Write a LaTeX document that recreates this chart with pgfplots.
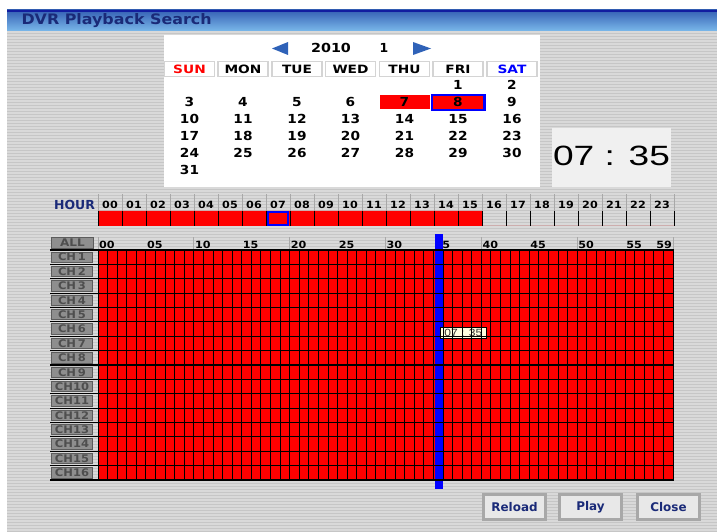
\documentclass[border=0pt]{standalone}
\usepackage{pgfplots}
\pgfplotsset{compat=1.18}
\usepackage{fontspec}
\setmainfont{DejaVu Sans}
\newfontfamily\lib{Liberation Sans}
\definecolor{bggray}{HTML}{D9D9D9}
\definecolor{stripe}{HTML}{C6C6C6}
\definecolor{navy}{HTML}{1A2A78}
\definecolor{titletop}{HTML}{3560B4}
\definecolor{titlebot}{HTML}{7AB8EA}
\definecolor{btnface}{HTML}{8E8E8E}
\definecolor{btnedge}{HTML}{5C5C5C}
\definecolor{btntext}{HTML}{4E4E4E}
\definecolor{tipyellow}{HTML}{FFFFE0}
\definecolor{timebox}{HTML}{F0F0F0}
\definecolor{hdrline}{HTML}{D4D4D4}
\definecolor{arrowblue}{HTML}{2F62B8}
\definecolor{divline}{HTML}{A8A8A8}
\newcommand{\fz}[1]{\fontsize{#1}{#1}\selectfont}
\newcommand{\D}[3]{\node[font=\bfseries\fz{12.5}] at (axis cs:#1,#2) {\scalebox{1.1}[1]{#3}};}
\newcommand{\HD}[4]{\draw[hdrline, line width=1.6bp] (axis cs:{#1-25},61.5) rectangle (axis cs:{#1+25},76.5);
  \node[font=\bfseries\fz{11.5}, text=#3] at (axis cs:#1,69) {\scalebox{1.2}[1]{#2}};}
\newcommand{\BTN}[3]{\fill[divline] (axis cs:#1,493) rectangle (axis cs:#2,521);
  \fill[bggray!60!white] (axis cs:{#1+3},496) rectangle (axis cs:{#2-3},518);
  \node[font=\bfseries\fz{12}, text=navy] at (axis cs:{(#1+#2)/2},507.5) {#3};}
\begin{document}
\begin{tikzpicture}
\path[use as bounding box] (0,0) rectangle (717bp,532bp);
% ---------------- main frame in pixel coordinates ----------------
\begin{axis}[at={(0,0)},anchor=south west,scale only axis,width=717bp,height=532bp,
  xmin=0,xmax=717,ymin=0,ymax=532,y dir=reverse,hide axis]
\fill[white] (axis cs:0,0) rectangle (axis cs:717,532);
\fill[bggray] (axis cs:7,30) rectangle (axis cs:717,532);
\pgfplotsinvokeforeach{33,36,...,531}{\draw[stripe, line width=0.8bp] (axis cs:7,#1) -- (axis cs:717,#1);}
% title bar
\shade[top color=titletop, bottom color=titlebot] (axis cs:7,10) rectangle (axis cs:717,31);
\draw[navy!70!blue, line width=1.5bp] (axis cs:7,11) -- (axis cs:717,11);
\node[anchor=west, text=navy, font=\bfseries\fz{14.5}] at (axis cs:18,21) {\scalebox{1.1}[1]{DVR Playback Search}};
% calendar panel
\fill[white] (axis cs:164,35) rectangle (axis cs:540,187);
\fill[arrowblue] (axis cs:272,48.5) -- (axis cs:288,42) -- (axis cs:288,55) -- cycle;
\fill[arrowblue] (axis cs:431,48.5) -- (axis cs:413,42) -- (axis cs:413,55) -- cycle;
\node[font=\bfseries\fz{12.5}] at (axis cs:331,47.5) {\scalebox{1.15}[1]{2010}};
\node[font=\bfseries\fz{12.5}] at (axis cs:384,47.5) {1};
\HD{189.5}{SUN}{red}{}
\HD{243}{MON}{black}{}
\HD{297}{TUE}{black}{}
\HD{350.5}{WED}{black}{}
\HD{404.5}{THU}{black}{}
\HD{458}{FRI}{black}{}
\HD{512}{SAT}{blue}{}
% highlighted days with recordings
\addplot[draw=none, fill=red] coordinates {(380,95) (429.5,95) (429.5,109.5) (380,109.5)} -- cycle;
\addplot[draw=none, fill=red] coordinates {(431,94) (485.5,94) (485.5,111) (431,111)} -- cycle;
\addplot[blue, line width=2.2bp] coordinates {(432.1,95.1) (484.4,95.1) (484.4,109.9) (432.1,109.9)} -- cycle;
\D{458}{85}{1}\D{512}{85}{2}
\D{189.5}{102}{3}\D{243}{102}{4}\D{297}{102}{5}\D{350.5}{102}{6}\D{404.5}{102}{7}\D{458}{102}{8}\D{512}{102}{9}
\D{189.5}{119}{10}\D{243}{119}{11}\D{297}{119}{12}\D{350.5}{119}{13}\D{404.5}{119}{14}\D{458}{119}{15}\D{512}{119}{16}
\D{189.5}{136}{17}\D{243}{136}{18}\D{297}{136}{19}\D{350.5}{136}{20}\D{404.5}{136}{21}\D{458}{136}{22}\D{512}{136}{23}
\D{189.5}{153}{24}\D{243}{153}{25}\D{297}{153}{26}\D{350.5}{153}{27}\D{404.5}{153}{28}\D{458}{153}{29}\D{512}{153}{30}
\D{189.5}{169.5}{31}
% time box
\fill[timebox] (axis cs:552,128) rectangle (axis cs:671,187);
\node[font=\lib\fz{28}] at (axis cs:611.5,156) {\scalebox{1.33}[1]{07 : 35}};
% hour header
\node[font=\bfseries\fz{12.5}, text=navy] at (axis cs:74.5,204.5) {HOUR};
\pgfplotsinvokeforeach{0,...,24}{\draw[divline, line width=0.8bp] (axis cs:{98+24*#1},194) -- (axis cs:{98+24*#1},211);}
\pgfplotsinvokeforeach{0,...,23}{\node[font=\bfseries\fz{10}] at (axis cs:{110+24*#1},204.5) {\scalebox{1.12}[1]{\ifnum#1<10 0\fi#1}};}
% minute header
\pgfplotsinvokeforeach{0,10,...,60}{\draw[divline, line width=0.8bp] (axis cs:{98+575/60*#1},237) -- (axis cs:{98+575/60*#1},250);}
\pgfplotsinvokeforeach{0,5,...,55}{\node[anchor=west, inner sep=1bp, font=\bfseries\fz{10}] at (axis cs:{98+575/60*#1},244.5) {\scalebox{1.12}[1]{\ifnum#1<10 0\fi#1}};}
\node[anchor=east, inner sep=1bp, font=\bfseries\fz{10}] at (axis cs:673,244.5) {\scalebox{1.12}[1]{59}};
% channel buttons
\fill[btnface] (axis cs:51,237) rectangle (axis cs:94,249);
\draw[btnedge, line width=0.8bp] (axis cs:51.5,237.5) rectangle (axis cs:93.5,248.5);
\node[font=\bfseries\fz{10.5}, text=btntext] at (axis cs:72.5,243) {\scalebox{1.15}[1]{ALL}};
\pgfplotsinvokeforeach{0,...,16}{\draw[black, line width=1.2bp] (axis cs:50,{250+14.375*#1}) -- (axis cs:99,{250+14.375*#1});}
\pgfplotsinvokeforeach{1,...,16}{
  \fill[btnface] (axis cs:51,{250+14.375*(#1-1)+1.5}) rectangle (axis cs:93,{250+14.375*#1-1.5});
  \draw[btnedge, line width=0.8bp] (axis cs:51.5,{250+14.375*(#1-1)+2}) rectangle (axis cs:92.5,{250+14.375*#1-2});
  \node[font=\bfseries\fz{10.5}, text=btntext] at (axis cs:72,{250+14.375*(#1-0.5)}) {\scalebox{1.1}[1]{\ifnum#1<10 CH\,#1\else CH#1\fi}};}
% bottom buttons
\BTN{482}{547}{Reload}
\BTN{558}{623}{Play}
\BTN{636}{701}{Close}
\end{axis}
% ---------------- hour bar ----------------
\begin{axis}[at={(98bp,321bp)},anchor=north west,scale only axis,width=576bp,height=15bp,
  xmin=0,xmax=24,ymin=0,ymax=1,xtick={0,...,24},ytick=\empty,xticklabels={},
  xmajorgrids, major grid style={black,line width=1bp}, tick style={draw=none},
  axis line style={draw=none}, axis on top]
\addplot[fill=red, draw=none, const plot] coordinates {
 (0,1) (1,1) (2,1) (3,1) (4,1) (5,1) (6,1) (7,1) (8,1) (9,1) (10,1) (11,1) (12,1) (13,1) (14,1) (15,1)
 (16,0) (17,0) (18,0) (19,0) (20,0) (21,0) (22,0) (23,0) (24,0)} \closedcycle;
\addplot[blue, line width=2bp] coordinates {(7.07,0.07) (7.93,0.07) (7.93,0.93) (7.07,0.93)} -- cycle;
\end{axis}
% ---------------- minute grid ----------------
\begin{axis}[at={(98bp,282bp)},anchor=north west,scale only axis,width=575bp,height=230bp,
  xmin=0,xmax=60,ymin=0,ymax=16,y dir=reverse,
  xtick={0,...,60},ytick={0,...,16},xticklabels={},yticklabels={},
  grid=major, x grid style={black,line width=0.9bp}, y grid style={black,line width=1.2bp},
  tick style={draw=none}, axis line style={black,line width=1bp}, axis on top, clip=false]
\addplot[xbar, bar width=1, fill=red, draw=none] coordinates {
 (60,0.5) (60,1.5) (60,2.5) (60,3.5) (60,4.5) (60,5.5) (60,6.5) (60,7.5)
 (60,8.5) (60,9.5) (60,10.5) (60,11.5) (60,12.5) (60,13.5) (60,14.5) (60,15.5)};
\addplot[blue, line width=8.6bp] coordinates {(35.58,-1.11) (35.58,16.63)};
\node[anchor=north west, fill=tipyellow, draw=black, line width=0.6bp, inner sep=0pt,
  minimum width=46bp, minimum height=11.6bp, font=\lib\fz{10.5}, text=black!80]
  at (axis cs:35.69,5.34) {\scalebox{1.15}[1]{07 : 35}};
\end{axis}
\end{tikzpicture}
\end{document}
